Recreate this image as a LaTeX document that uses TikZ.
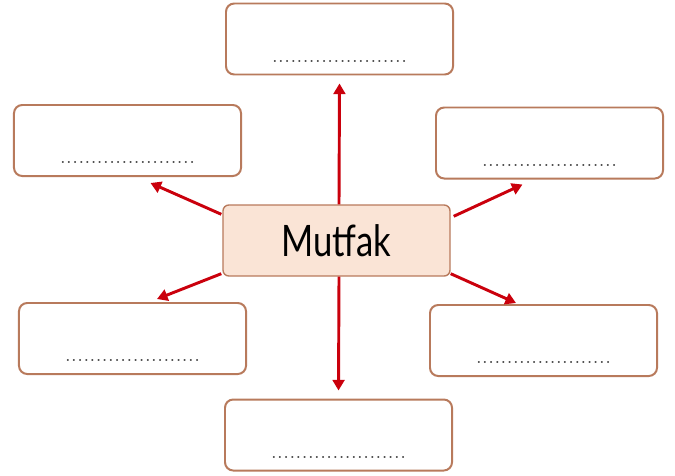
\documentclass[tikz,border=0pt]{standalone}
\usepackage{fontspec}
\newfontfamily\okulfont[FakeStretch=0.8]{Lato}
\usetikzlibrary{arrows.meta}

\definecolor{kahve}{RGB}{184,122,92}
\definecolor{somon}{RGB}{250,228,214}
\definecolor{okkirmizi}{RGB}{202,0,12}

\tikzset{
  kutu/.style={draw=kahve, line width=1.7pt, rounded corners=7pt, fill=white,
    minimum width=6.81cm, minimum height=2.13cm, inner sep=0pt},
  merkez/.style={kutu, fill=somon, line width=1.2pt, rounded corners=5pt},
  noktalar/.style={font=\fontsize{21}{21}\selectfont, text=black!75, inner sep=0pt},
  ok/.style={draw=okkirmizi, line width=2.5pt, -{Triangle[length=9pt,width=10pt]}}
}

\begin{document}
\begin{tikzpicture}[x=0.03cm, y=-0.03cm]
  \useasboundingbox (0,0) rectangle (675,475);

  % kutular
  \node[merkez] (mutfak) at (336.5,240.5) {\okulfont\fontsize{37}{37}\selectfont Mutfak};
  \node[kutu] (ust)    at (339.5,39)  {};
  \node[kutu] (sol1)   at (127.5,140.5) {};
  \node[kutu] (sag1)   at (549.5,143) {};
  \node[kutu] (sol2)   at (132.5,338.5) {};
  \node[kutu] (sag2)   at (543.5,340.5) {};
  \node[kutu] (alt)    at (338.5,435) {};

  % noktali satirlar
  \foreach \k in {ust,sol1,sag1,sol2,sag2,alt}
    \node[noktalar, anchor=base] (\k-n) at ([yshift=0.40cm]\k.south) {......................};

  % oklar
  \draw[ok] ([shift={(2.5,0)}]mutfak.north) -- ([shift={(0,8)}]ust.south);
  \draw[ok] ([shift={(2.5,0)}]mutfak.south) -- ([shift={(0,-8)}]alt.north);
  \draw[ok] ([shift={(-1,10)}]mutfak.north west) -- ([shift={(23,6)}]sol1.south);
  \draw[ok] ([shift={(3,12)}]mutfak.north east) -- ([shift={(-27,5)}]sag1.south);
  \draw[ok] ([shift={(-1,-3)}]mutfak.south west) -- ([shift={(24.5,-3)}]sol2.north);
  \draw[ok] ([shift={(0,-3)}]mutfak.south east) -- ([shift={(-27.5,-1)}]sag2.north);
\end{tikzpicture}
\end{document}
